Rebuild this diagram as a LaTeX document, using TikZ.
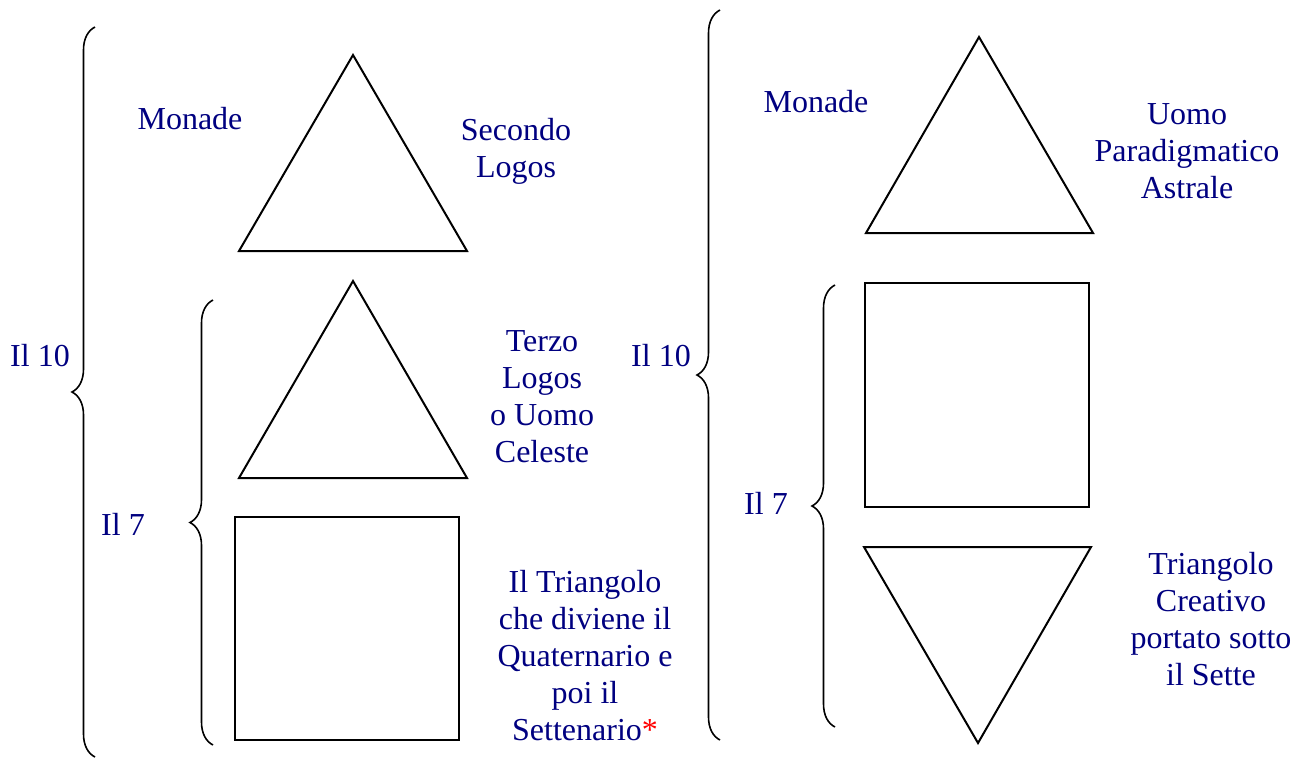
\documentclass[tikz,border=0pt]{standalone}
\usepackage{fontspec}
\setmainfont{Liberation Serif}
\usepackage{tikz}
\usetikzlibrary{decorations.pathreplacing}
\definecolor{labelblue}{RGB}{0,0,128}
\tikzset{
  lbl/.style={text=labelblue, align=center, inner sep=0pt, font=\fontsize{16}{18.5}\selectfont},
  shp/.style={draw=black, line width=1pt, line join=miter},
  bracket/.style={draw=black, line width=0.8pt, decorate, decoration={brace, amplitude=11.5pt, aspect=0.5}}
}

\begin{document}
\begin{tikzpicture}[x=0.5pt, y=-0.5pt]
\useasboundingbox (0,0) rectangle (1304,757);
%Left figure
\draw[shp] (353,55) -- (467,251) -- (239,251) -- cycle;
\draw[shp] (353,281) -- (467,478) -- (239,478) -- cycle;
\draw[shp] (235,517) rectangle (459,740);
\draw[bracket] (95,757) -- (95,27);
\draw[bracket] (213,745) -- (213,300);
\node[lbl] (monL) at (190,119) {Monade};
\node[lbl] (secL) at (516,151) {Secondo\\Logos};
\node[lbl] (tenL) at (40,356) {Il 10};
\node[lbl] (sevL) at (123,524) {Il 7};
\node[lbl] (terL) at (542,397) {Terzo\\Logos\\o Uomo\\Celeste};
\node[lbl] (triL) at (585,656) {Il Triangolo\\che diviene il\\Quaternario e\\poi il\\Settenario\textcolor{red}{*}};
%Right figure
\draw[shp] (979,37) -- (1093,233) -- (866,233) -- cycle;
\draw[shp] (865,283) rectangle (1089,507);
\draw[shp] (864,547) -- (1091,547) -- (978,743) -- cycle;
\draw[bracket] (720,740) -- (720,10);
\draw[bracket] (835,727) -- (835,285);
\node[lbl] (monR) at (816,102) {Monade};
\node[lbl] (uomR) at (1187,151) {Uomo\\Paradigmatico\\Astrale};
\node[lbl] (tenR) at (661,356) {Il 10};
\node[lbl] (sevR) at (766,503) {Il 7};
\node[lbl] (triR) at (1211,619) {Triangolo\\Creativo\\portato sotto\\il Sette};
\end{tikzpicture}
\end{document}
